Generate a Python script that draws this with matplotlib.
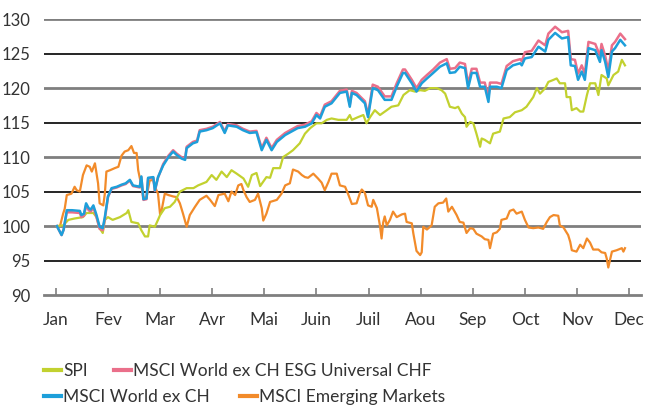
import matplotlib
matplotlib.use("Agg")
import matplotlib.pyplot as plt
from matplotlib.lines import Line2D

plt.rcParams['font.family'] = ['Lato', 'DejaVu Sans']

months = ["Jan", "Fev", "Mar", "Avr", "Mai", "Juin", "Juil",
          "Aou", "Sep", "Oct", "Nov", "Dec"]

# positions in months since 1 Jan
world_t = [0.02, 0.11, 0.15, 0.21, 0.31, 0.46, 0.49, 0.54, 0.58, 0.63, 0.67, 0.72,
           0.78, 0.84, 0.90, 0.94, 1.00, 1.07, 1.17, 1.26, 1.34, 1.42, 1.48, 1.61,
           1.64, 1.68, 1.74, 1.77, 1.87, 1.90, 1.96, 2.06, 2.16, 2.25, 2.32, 2.41,
           2.48, 2.51, 2.63, 2.71, 2.76, 2.89, 3.01, 3.15, 3.24, 3.30, 3.47, 3.59,
           3.72, 3.85, 3.95, 4.04, 4.14, 4.24, 4.40, 4.52, 4.64, 4.78, 4.91, 5.00,
           5.07, 5.16, 5.29, 5.45, 5.58, 5.64, 5.68, 5.77, 5.93, 5.99, 6.08, 6.18,
           6.31, 6.44, 6.54, 6.66, 6.70, 6.83, 6.92, 7.02, 7.12, 7.24, 7.37, 7.50,
           7.56, 7.66, 7.75, 7.85, 7.91, 7.98, 8.07, 8.14, 8.23, 8.30, 8.33, 8.46,
           8.55, 8.65, 8.77, 8.91, 8.94, 9.00, 9.13, 9.26, 9.39, 9.45, 9.58, 9.71,
           9.83, 9.88, 9.96, 10.02, 10.09, 10.15, 10.22, 10.35, 10.44, 10.47, 10.54,
           10.60, 10.67, 10.73, 10.83, 10.92]
world = [100.0, 98.7, 99.5, 102.3, 102.3, 102.2, 101.6, 101.8, 103.3, 102.6, 102.4, 103.0,
         101.6, 99.9, 99.7, 101.3, 104.3, 105.5, 105.7, 106.0, 106.2, 106.7, 105.9, 105.7,
         107.2, 103.9, 104.0, 107.0, 107.1, 105.2, 107.1, 108.8, 110.0, 110.8, 110.3, 109.8,
         109.6, 111.3, 112.0, 112.2, 113.7, 113.9, 114.2, 114.9, 113.5, 114.6, 114.4, 113.9,
         113.5, 113.6, 111.0, 112.5, 111.0, 112.2, 113.2, 113.7, 114.2, 114.4, 114.9, 116.1,
         115.6, 117.3, 117.8, 119.3, 119.5, 117.3, 119.3, 119.0, 117.8, 115.8, 120.0, 119.7,
         118.3, 118.3, 120.2, 122.2, 122.2, 120.7, 119.5, 120.7, 121.4, 122.2, 123.1, 123.6,
         122.2, 122.3, 123.1, 122.9, 120.0, 122.2, 122.2, 120.2, 120.2, 118.0, 120.2, 120.2,
         120.0, 122.6, 123.3, 123.6, 123.3, 124.3, 124.5, 126.0, 125.3, 127.0, 128.0, 127.2,
         127.4, 123.3, 123.2, 121.2, 122.4, 121.2, 125.8, 125.5, 123.8, 125.5, 123.8,
         121.6, 125.3, 125.8, 127.0, 126.2]
esg = [100.0, 98.7, 99.5, 102.0, 102.0, 101.9, 101.3, 101.5, 103.0, 102.3, 102.1, 102.7,
       101.3, 99.6, 99.4, 101.0, 104.2, 105.4, 105.6, 105.9, 106.1, 106.6, 105.8, 105.6,
       107.1, 103.8, 103.9, 106.9, 107.0, 105.1, 107.0, 109.0, 110.2, 111.0, 110.5, 110.0,
       109.8, 111.5, 112.2, 112.4, 113.9, 114.1, 114.4, 115.1, 113.7, 114.8, 114.6, 114.1,
       113.7, 113.8, 111.3, 112.8, 111.3, 112.5, 113.5, 114.0, 114.5, 114.7, 115.2, 116.4,
       115.9, 117.6, 118.1, 119.6, 119.8, 117.6, 119.6, 119.3, 118.1, 116.1, 120.5, 120.2,
       118.8, 118.8, 120.7, 122.7, 122.7, 121.2, 120.0, 121.2, 121.9, 122.7, 123.7, 124.2,
       122.8, 122.9, 123.7, 123.5, 120.6, 122.8, 122.8, 120.8, 120.8, 118.6, 120.8, 120.8,
       120.6, 123.2, 123.9, 124.2, 123.9, 125.2, 125.4, 126.9, 126.2, 127.9, 128.9, 128.1,
       128.3, 124.2, 124.1, 122.1, 123.3, 122.1, 126.7, 126.4, 124.7, 126.4, 124.7,
       122.5, 126.2, 126.7, 127.9, 127.1]

spi_t = [0.02, 0.14, 0.24, 0.36, 0.52, 0.59, 0.72, 0.78, 0.84, 0.90, 0.94, 1.00,
         1.09, 1.23, 1.36, 1.39, 1.45, 1.58, 1.64, 1.71, 1.77, 1.80, 1.90, 1.96,
         2.00, 2.09, 2.19, 2.28, 2.38, 2.51, 2.64, 2.73, 2.89, 2.99, 3.08, 3.18,
         3.28, 3.37, 3.47, 3.60, 3.69, 3.76, 3.85, 3.92, 4.04, 4.11, 4.17, 4.30,
         4.36, 4.46, 4.55, 4.68, 4.78, 4.88, 5.00, 5.10, 5.20, 5.29, 5.42, 5.58,
         5.64, 5.68, 5.80, 5.90, 5.96, 6.03, 6.12, 6.22, 6.35, 6.44, 6.57, 6.67,
         6.79, 6.89, 6.99, 7.08, 7.18, 7.31, 7.40, 7.47, 7.56, 7.66, 7.72, 7.79,
         7.85, 7.88, 7.95, 8.01, 8.07, 8.14, 8.17, 8.23, 8.33, 8.39, 8.52, 8.59,
         8.71, 8.81, 8.94, 9.03, 9.16, 9.23, 9.29, 9.39, 9.45, 9.55, 9.61, 9.67,
         9.77, 9.80, 9.87, 9.90, 9.99, 10.06, 10.12, 10.19, 10.25, 10.35, 10.41,
         10.47, 10.57, 10.60, 10.70, 10.79, 10.86, 10.92]
spi = [100.0, 100.1, 100.9, 101.1, 101.3, 101.9, 101.9, 101.3, 99.7, 99.0, 100.9, 101.3,
       100.9, 101.3, 101.9, 102.3, 100.6, 100.4, 99.4, 98.5, 98.5, 100.1, 99.9, 100.9,
       101.6, 102.6, 102.8, 103.5, 105.0, 105.5, 105.5, 105.9, 106.4, 107.4, 106.7, 107.9,
       107.1, 108.1, 107.6, 106.9, 105.7, 107.4, 107.7, 105.8, 107.1, 107.0, 108.4, 108.4,
       110.0, 110.5, 111.0, 112.0, 113.4, 114.2, 114.9, 114.9, 115.4, 115.6, 115.4, 115.4,
       116.1, 115.4, 115.8, 116.1, 114.9, 115.8, 116.8, 116.1, 116.8, 117.3, 117.5, 119.0,
       119.7, 119.5, 119.7, 119.6, 120.0, 120.0, 119.7, 119.2, 117.3, 117.1, 117.3, 116.3,
       115.8, 114.4, 115.1, 114.9, 113.4, 111.5, 112.7, 112.5, 112.0, 113.4, 113.7, 115.6,
       115.8, 116.5, 116.8, 117.3, 118.7, 120.0, 119.2, 120.0, 120.9, 121.2, 121.4, 120.7,
       120.7, 118.7, 118.7, 116.8, 117.1, 116.6, 116.6, 119.0, 120.7, 120.7, 119.0,
       121.9, 121.4, 120.4, 121.9, 122.4, 124.1, 123.3]

em_t = [0.02, 0.08, 0.14, 0.17, 0.21, 0.30, 0.36, 0.40, 0.46, 0.52, 0.59, 0.65,
        0.69, 0.75, 0.81, 0.84, 0.91, 0.94, 0.97, 1.04, 1.13, 1.20, 1.26, 1.32,
        1.39, 1.45, 1.50, 1.55, 1.58, 1.64, 1.68, 1.74, 1.80, 1.87, 1.90, 1.96,
        2.00, 2.03, 2.09, 2.16, 2.25, 2.32, 2.38, 2.44, 2.51, 2.57, 2.67, 2.76,
        2.89, 2.96, 3.05, 3.12, 3.24, 3.31, 3.37, 3.44, 3.50, 3.56, 3.60, 3.66,
        3.72, 3.82, 3.88, 3.95, 3.98, 4.04, 4.11, 4.24, 4.33, 4.40, 4.49, 4.55,
        4.65, 4.72, 4.78, 4.84, 4.94, 5.03, 5.10, 5.16, 5.23, 5.29, 5.39, 5.45,
        5.55, 5.61, 5.68, 5.77, 5.83, 5.87, 5.93, 5.99, 6.06, 6.09, 6.16, 6.22,
        6.25, 6.28, 6.31, 6.35, 6.41, 6.47, 6.54, 6.64, 6.70, 6.73, 6.83, 6.86,
        6.92, 6.99, 7.02, 7.05, 7.12, 7.21, 7.27, 7.34, 7.43, 7.49, 7.53, 7.60,
        7.69, 7.75, 7.82, 7.88, 7.95, 8.01, 8.07, 8.17, 8.23, 8.30, 8.33, 8.39,
        8.46, 8.52, 8.55, 8.65, 8.71, 8.78, 8.84, 8.94, 9.00, 9.07, 9.16, 9.26,
        9.35, 9.42, 9.48, 9.55, 9.64, 9.67, 9.74, 9.83, 9.87, 9.90, 9.99, 10.06,
        10.12, 10.19, 10.25, 10.31, 10.41, 10.47, 10.54, 10.57, 10.60, 10.67,
        10.76, 10.83, 10.86, 10.89, 10.92]
em = [100.0, 100.0, 101.8, 102.5, 104.5, 104.7, 105.7, 105.2, 105.0, 107.4, 108.8, 108.6,
      107.9, 109.1, 106.2, 103.3, 103.0, 104.7, 107.9, 108.1, 108.4, 108.6, 110.2, 110.8,
      111.0, 111.6, 110.6, 110.6, 108.1, 105.9, 104.1, 104.2, 106.6, 106.7, 105.7, 104.7,
      101.7, 102.3, 104.7, 104.5, 104.3, 104.2, 103.3, 101.8, 99.9, 101.6, 102.8, 103.8,
      104.4, 103.8, 102.9, 104.5, 104.7, 103.6, 105.0, 104.5, 105.9, 106.1, 105.2, 104.2,
      103.5, 103.8, 104.7, 102.6, 100.8, 101.8, 103.5, 103.8, 104.7, 105.9, 106.2, 108.2,
      107.9, 107.4, 107.1, 107.0, 107.6, 106.9, 106.3, 105.2, 106.4, 107.6, 107.6, 105.9,
      105.7, 104.6, 103.2, 103.3, 104.7, 105.3, 104.8, 103.0, 102.8, 103.8, 102.6, 100.0,
      98.2, 100.5, 101.4, 100.1, 100.9, 102.1, 101.3, 101.7, 101.8, 100.6, 100.4, 98.9,
      96.4, 95.8, 96.2, 99.9, 99.5, 100.1, 102.8, 103.3, 103.4, 104.0, 102.1, 102.8,
      101.6, 100.6, 100.5, 99.0, 99.7, 99.6, 98.9, 98.5, 98.1, 98.0, 96.8, 98.9,
      99.1, 99.6, 100.9, 101.1, 102.2, 102.4, 101.8, 102.1, 100.9, 99.8, 99.7, 99.8,
      99.6, 100.6, 101.3, 101.6, 101.5, 100.1, 99.8, 98.7, 97.7, 96.5, 96.3, 97.3,
      96.8, 98.2, 97.6, 96.6, 96.6, 96.2, 96.1, 95.3, 94.0, 96.3,
      96.5, 96.7, 96.8, 96.3, 96.8]

c_spi = "#c2d12f"
c_esg = "#ea6f8a"
c_world = "#1d9fda"
c_em = "#f28b2a"

fig = plt.figure(figsize=(6.45, 4.07), dpi=100)
ax = fig.add_axes([0.068, 0.275, 0.926, 0.678])

for v in [125, 115, 105, 95]:
    ax.axhline(v, color="black", lw=1.2, zorder=1)
for v in [130, 120, 110, 100]:
    ax.axhline(v, color="#7f7f7f", lw=2.0, zorder=1)

ax.plot(em_t, em, color=c_em, lw=1.6, zorder=3)
ax.plot(spi_t, spi, color=c_spi, lw=1.6, zorder=3)
ax.plot(world_t, esg, color=c_esg, lw=1.8, zorder=4)
ax.plot(world_t, world, color=c_world, lw=1.8, zorder=5)

ax.set_xlim(-0.23, 11.23)
ax.set_ylim(90, 130)
ax.set_yticks(range(90, 131, 5))
ax.set_xticks(range(12))
ax.set_xticklabels(months)
for s in ["top", "right", "left"]:
    ax.spines[s].set_visible(False)
ax.spines["bottom"].set_color("#7f7f7f")
ax.spines["bottom"].set_linewidth(2.0)
ax.tick_params(axis="y", length=0, pad=10, labelsize=12, labelcolor="#333333")
ax.tick_params(axis="x", direction="in", length=5, width=1.2, color="#7f7f7f",
               pad=12, labelsize=12.5, labelcolor="#333333")

row1 = [Line2D([], [], color=c_spi, lw=3), Line2D([], [], color=c_esg, lw=3)]
row2 = [Line2D([], [], color=c_world, lw=3), Line2D([], [], color=c_em, lw=3)]
kw = dict(frameon=False, ncol=2, loc="center left", handlelength=1.0,
          handletextpad=0.12, borderaxespad=0, borderpad=0,
          prop={"size": 12.5}, labelcolor="#333333")
fig.legend(row1, ["SPI", "MSCI World ex CH ESG Universal CHF"],
           bbox_to_anchor=(0.068, 0.089), columnspacing=1.5, **kw)
fig.legend(row2, ["MSCI World ex CH", "MSCI Emerging Markets"],
           bbox_to_anchor=(0.068, 0.024), columnspacing=1.7, **kw)

plt.savefig("out.png", dpi=100)
